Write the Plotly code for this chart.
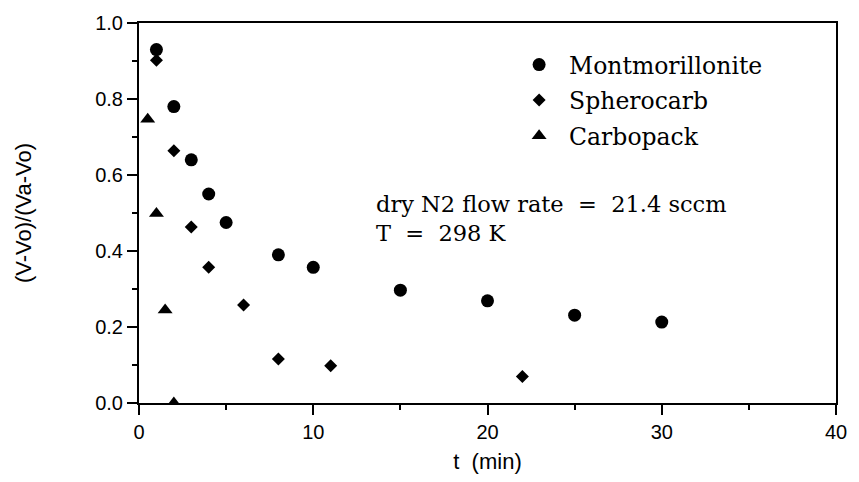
import plotly.graph_objects as go

# Normalised response vs. time for three adsorbents
mont_t = [1, 2, 3, 4, 5, 8, 10, 15, 20, 25, 30]
mont_v = [0.93, 0.78, 0.64, 0.55, 0.475, 0.39, 0.357, 0.297, 0.269, 0.231, 0.213]

sphero_t = [1, 2, 3, 4, 6, 8, 11, 22]
sphero_v = [0.902, 0.664, 0.463, 0.357, 0.258, 0.116, 0.098, 0.07]

carbo_t = [0.5, 1, 1.5, 2]
carbo_v = [0.747, 0.499, 0.245, 0.0]

x_ticks = [0, 10, 20, 30, 40]
y_ticks = [0.0, 0.2, 0.4, 0.6, 0.8, 1.0]

SERIF = "DejaVu Serif"
SANS = "Liberation Sans"

fig = go.Figure()
series = [
    ("Montmorillonite", mont_t, mont_v, "circle", 13),
    ("Spherocarb", sphero_t, sphero_v, "diamond", 10),
    ("Carbopack", carbo_t, carbo_v, "triangle-up", 13),
]
for name, xs, ys, sym, sz in series:
    fig.add_trace(go.Scatter(
        x=xs, y=ys, mode="markers", name=name, legendgroup=name,
        marker=dict(symbol=sym, size=sz, color="black", line=dict(width=0)),
    ))

axis_common = dict(
    showline=True, linecolor="black", linewidth=2, mirror=True,
    ticks="outside", tickcolor="black", tickwidth=2, ticklen=10,
    showgrid=False, zeroline=False,
    tickfont=dict(family=SANS, size=20, color="black"),
)

fig.update_xaxes(
    range=[0, 40], tickvals=x_ticks,
    minor=dict(dtick=5, ticks="outside", ticklen=5, tickwidth=2, tickcolor="black", showgrid=False),
    title=dict(text="t  (min)", font=dict(family=SANS, size=22, color="black"), standoff=12),
    **axis_common,
)
fig.update_yaxes(
    range=[0, 1], tickvals=y_ticks, tickformat=".1f",
    minor=dict(dtick=0.1, ticks="outside", ticklen=5, tickwidth=2, tickcolor="black", showgrid=False),
    title=dict(text="(V-Vo)/(Va-Vo)", font=dict(family=SANS, size=22, color="black"), standoff=57),
    **axis_common,
)

fig.add_annotation(
    x=13.5, y=0.485, xref="x", yref="y", xanchor="left", yanchor="middle",
    text="dry N2 flow rate  =  21.4 sccm<br>T  =  298 K", align="left", showarrow=False,
    font=dict(family=SERIF, size=22.5, color="black"),
)

fig.update_layout(
    width=859, height=482,
    margin=dict(l=139, r=13, t=17, b=78),
    paper_bgcolor="white", plot_bgcolor="white",
    showlegend=True,
    legend=dict(
        x=0.531, y=0.948, xanchor="left", yanchor="top",
        font=dict(family=SERIF, size=23.5, color="black"),
        traceorder="grouped", tracegroupgap=2, itemwidth=50,
        bgcolor="rgba(0,0,0,0)",
    ),
)

fig.write_html("out.html")
